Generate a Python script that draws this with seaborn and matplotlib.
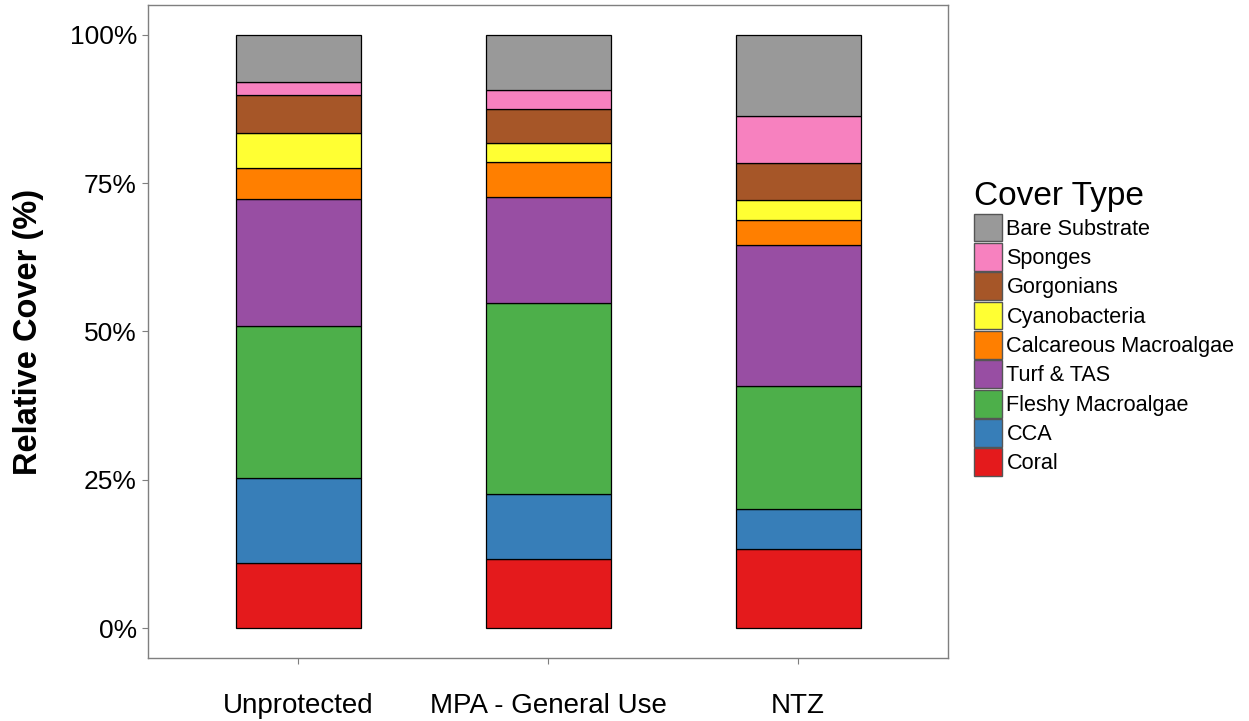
import numpy as np
import pandas as pd
import matplotlib
matplotlib.use("Agg")
import matplotlib.pyplot as plt
from matplotlib.patches import Patch
from matplotlib.ticker import PercentFormatter
import seaborn as sns

# Data (relative cover, % of total), stacked bottom -> top
sites = ["Unprotected", "MPA - General Use", "NTZ"]
cover_types = ["Coral", "CCA", "Fleshy Macroalgae", "Turf & TAS",
               "Calcareous Macroalgae", "Cyanobacteria", "Gorgonians",
               "Sponges", "Bare Substrate"]
coral = [11.0, 11.7, 13.3]
cca = [14.4, 10.9, 6.8]
fleshy = [25.6, 32.2, 20.8]
turf = [21.4, 17.9, 23.7]
calcareous = [5.1, 5.8, 4.2]
cyano = [6.0, 3.2, 3.4]
gorgonians = [6.4, 5.7, 6.2]
sponges = [2.2, 3.2, 7.9]
bare = [7.9, 9.4, 13.7]

colors = ["#E41A1C", "#377EB8", "#4DAF4A", "#984EA3", "#FF7F00",
          "#FFFF33", "#A65628", "#F781BF", "#999999"]

series = [coral, cca, fleshy, turf, calcareous, cyano, gorgonians, sponges, bare]

sns.set_theme(style="white")
plt.rcParams['font.family'] = ['Liberation Sans', 'DejaVu Sans']

fig = plt.figure(figsize=(12.49, 7.21), dpi=100)
ax = fig.add_axes([148 / 1249, 63 / 721, 800 / 1249, 653 / 721])

bottom = np.zeros(len(sites))
for name, vals, col in zip(cover_types, series, colors):
    df = pd.DataFrame({"site": sites, "cover": vals})
    sns.barplot(data=df, x="site", y="cover", order=sites, color=col,
                width=0.5, bottom=bottom.copy(), edgecolor="black",
                linewidth=0.9, saturation=1, errorbar=None, ax=ax)
    bottom += np.array(vals)

ax.set_ylim(-5, 105)
ax.set_xlim(-0.6, 2.6)
ax.set_yticks([0, 25, 50, 75, 100])
ax.yaxis.set_major_formatter(PercentFormatter(decimals=0))
ax.set_xlabel("")
ax.set_ylabel("Relative Cover (%)", fontsize=23.5, fontweight="bold", color="black")
ax.yaxis.set_label_coords(-0.13, 0.5)

for side in ax.spines.values():
    side.set_visible(True)
    side.set_color("#7f7f7f")
    side.set_linewidth(1.0)

ax.tick_params(axis="both", which="major", length=4, width=0.8, color="#7f7f7f",
               labelsize=19, labelcolor="black")
ax.tick_params(axis="x", labelsize=20, pad=21, bottom=True)
ax.tick_params(axis="y", pad=4, left=True)

handles = [Patch(facecolor=c, edgecolor="#555555", linewidth=1.0)
           for c in colors]
leg = fig.legend(handles[::-1], cover_types[::-1], title="Cover Type",
                 loc="upper left", bbox_to_anchor=(974 / 1249, 1 - 181 / 721),
                 frameon=False, fontsize=15.6, title_fontsize=24,
                 handlelength=1.3, handleheight=1.6, handletextpad=0.2,
                 labelspacing=0.07, borderpad=0, borderaxespad=0)
leg._legend_box.align = "left"
leg.get_title().set_color("black")
for t in leg.get_texts():
    t.set_color("black")

fig.savefig("out.png", dpi=100)
